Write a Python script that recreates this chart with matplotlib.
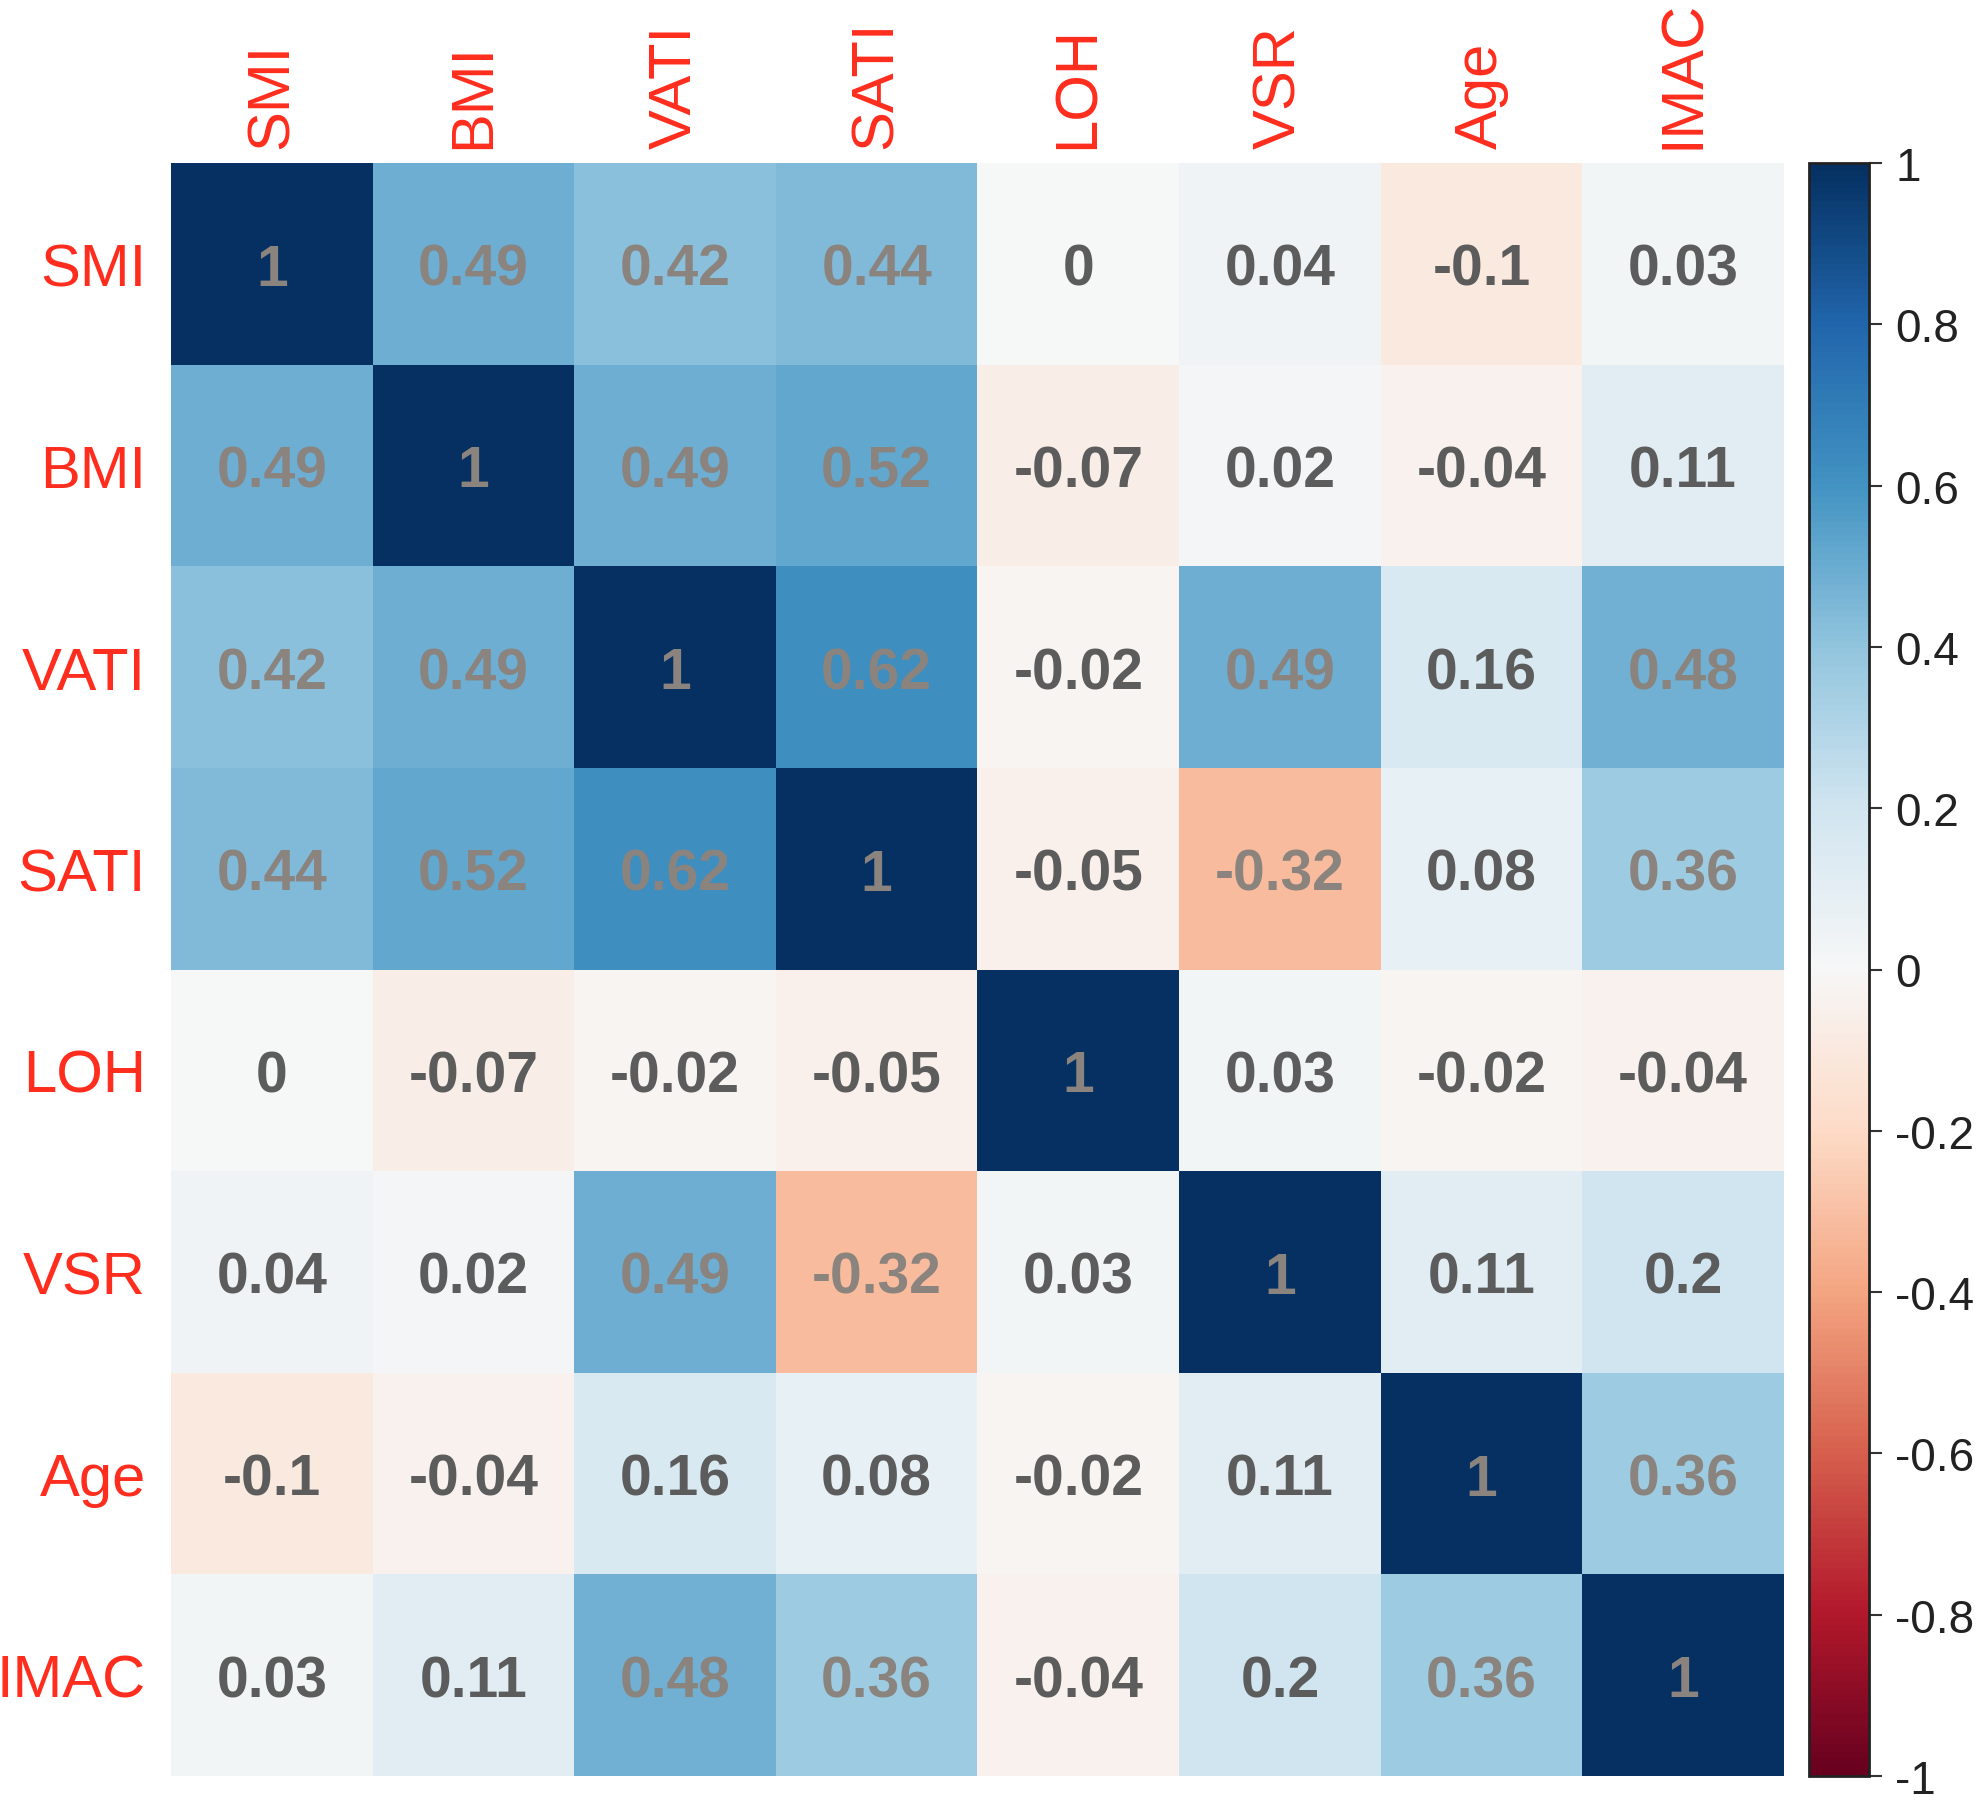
import numpy as np
import matplotlib
matplotlib.use("Agg")
import matplotlib.pyplot as plt

plt.rcParams["font.family"] = ["Liberation Sans", "DejaVu Sans"]

variables = ["SMI", "BMI", "VATI", "SATI", "LOH", "VSR", "Age", "IMAC"]

corr_values = np.array([
    [1.00, 0.49, 0.42, 0.44, 0.00, 0.04, -0.10, 0.03],
    [0.49, 1.00, 0.49, 0.52, -0.07, 0.02, -0.04, 0.11],
    [0.42, 0.49, 1.00, 0.62, -0.02, 0.49, 0.16, 0.48],
    [0.44, 0.52, 0.62, 1.00, -0.05, -0.32, 0.08, 0.36],
    [0.00, -0.07, -0.02, -0.05, 1.00, 0.03, -0.02, -0.04],
    [0.04, 0.02, 0.49, -0.32, 0.03, 1.00, 0.11, 0.20],
    [-0.10, -0.04, 0.16, 0.08, -0.02, 0.11, 1.00, 0.36],
    [0.03, 0.11, 0.48, 0.36, -0.04, 0.20, 0.36, 1.00],
])

cbar_ticks = [1, 0.8, 0.6, 0.4, 0.2, 0, -0.2, -0.4, -0.6, -0.8, -1]
cbar_labels = ["1", "0.8", "0.6", "0.4", "0.2", "0", "-0.2", "-0.4", "-0.6", "-0.8", "-1"]

W, H = 1983, 1806
fig = plt.figure(figsize=(W / 100, H / 100), dpi=100)

left, right, top, bottom = 171, 1784, 164, 1777
ax = fig.add_axes([left / W, 1 - bottom / H, (right - left) / W, (bottom - top) / H])
cax = fig.add_axes([1809 / W, 1 - bottom / H, 60 / W, (bottom - top) / H])

n = len(variables)
mesh = ax.pcolormesh(np.arange(n + 1), np.arange(n + 1), corr_values,
                     cmap="RdBu", vmin=-1, vmax=1, edgecolors="none")
ax.set_xlim(0, n)
ax.set_ylim(n, 0)

# numbers inside cells
for i in range(n):
    for j in range(n):
        v = corr_values[i, j]
        label = f"{v:.2f}".rstrip("0").rstrip(".") if v != 0 else "0"
        color = "#8a837e" if abs(v) >= 0.3 else "#5c5c5c"
        ax.text(j + 0.5, i + 0.53, label, ha="center", va="center",
                fontsize=41, fontweight="bold", color=color)

ax.xaxis.tick_top()
ax.set_xticks(np.arange(n) + 0.5)
ax.set_xticklabels(variables, rotation=90, fontsize=43, color="#ff2d1e")
ax.set_yticks(np.arange(n) + 0.5)
ax.set_yticklabels(variables, fontsize=43, color="#ff2d1e")
ax.tick_params(axis="x", length=0, pad=11)
ax.tick_params(axis="y", length=0, pad=18)
for spine in ax.spines.values():
    spine.set_visible(False)

cbar = fig.colorbar(mesh, cax=cax)
cbar.set_ticks(cbar_ticks)
cbar.set_ticklabels(cbar_labels)
cbar.ax.tick_params(labelsize=33, length=9, width=1.5, color="#333333",
                    labelcolor="#222222", pad=10)
cbar.outline.set_linewidth(2)
cbar.outline.set_edgecolor("#222222")

fig.savefig("out.png", dpi=100)
